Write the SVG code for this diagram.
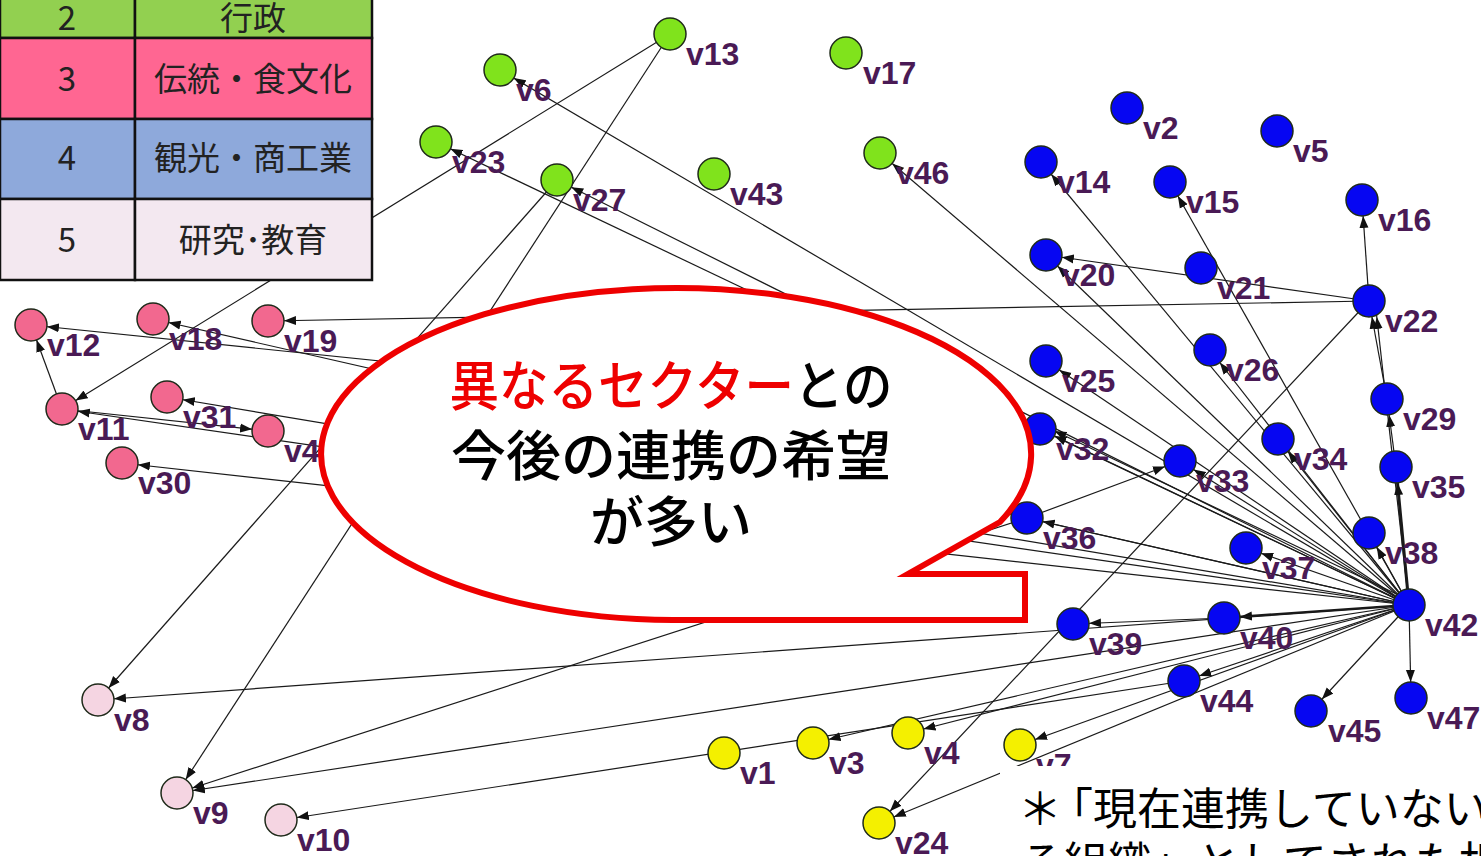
<svg xmlns="http://www.w3.org/2000/svg" width="1481" height="856" viewBox="0 0 1481 856">
<style>
.n{stroke:#1f2a1a;stroke-width:1.5}
.g{fill:#80E31C}
.b{fill:#0606F2}
.p{fill:#F2688F}
.l{fill:#F5D5E2}
.y{fill:#F4F000}
.lbl{font-family:"Liberation Sans",Arial,sans-serif;font-weight:bold;font-size:32px;fill:#4a1a55}
.e{stroke:#1a1a1a;stroke-width:1.2;fill:none;marker-end:url(#a)}
.tb{stroke:#111;stroke-width:2.5}
.tt{font-family:"Noto Sans CJK JP","Noto Sans",sans-serif;font-size:33px;fill:#222;text-anchor:middle}
.ct{font-family:"Noto Sans CJK JP",sans-serif;font-size:54px;fill:#000;text-anchor:middle;font-weight:500}
.nt{font-family:"Noto Sans CJK JP",sans-serif;font-size:44px;fill:#000}
</style>
<defs>
<marker id="a" markerUnits="userSpaceOnUse" viewBox="0 -5 28 10" refX="28" refY="0" markerWidth="28" markerHeight="10" orient="auto">
<path d="M0,-4.5 L12,0 L0,4.5 z" fill="#111"/>
</marker>
</defs>
<rect width="1481" height="856" fill="#fff"/>
<g id="connectors">
<line class="e" x1="670" y1="34" x2="62" y2="409"/>
<line class="e" x1="670" y1="34" x2="177" y2="793"/>
<line class="e" x1="557" y1="180" x2="98" y2="700"/>
<line class="e" x1="1409" y1="605" x2="500" y2="70"/>
<line class="e" x1="1409" y1="605" x2="436" y2="142"/>
<line class="e" x1="1409" y1="605" x2="557" y2="180"/>
<line class="e" x1="1409" y1="605" x2="880" y2="153"/>
<line class="e" x1="1409" y1="605" x2="1041" y2="162"/>
<line class="e" x1="1409" y1="605" x2="1170" y2="182"/>
<line class="e" x1="1369" y1="301" x2="1362" y2="200"/>
<line class="e" x1="1369" y1="301" x2="1046" y2="255"/>
<line class="e" x1="1409" y1="605" x2="1046" y2="255"/>
<line class="e" x1="1369" y1="301" x2="268" y2="321"/>
<line class="e" x1="1387" y1="399" x2="1369" y2="301"/>
<line class="e" x1="1409" y1="605" x2="1375" y2="301"/>
<line class="e" x1="1396" y1="467" x2="1387" y2="399"/>
<line class="e" x1="1409" y1="605" x2="1396" y2="467" style="stroke-width:3"/>
<line class="e" x1="1409" y1="605" x2="1046" y2="361"/>
<line class="e" x1="1409" y1="605" x2="1210" y2="350"/>
<line class="e" x1="1409" y1="605" x2="1040" y2="429"/>
<line class="e" x1="1409" y1="600" x2="1040" y2="424"/>
<line class="e" x1="1027" y1="518" x2="1180" y2="461"/>
<line class="e" x1="1409" y1="605" x2="1180" y2="461"/>
<line class="e" x1="1409" y1="605" x2="1278" y2="439"/>
<line class="e" x1="1409" y1="605" x2="1369" y2="533"/>
<line class="e" x1="1409" y1="605" x2="1027" y2="518"/>
<line class="e" x1="1409" y1="605" x2="1246" y2="548"/>
<line class="e" x1="1409" y1="605" x2="1224" y2="618" style="stroke-width:2.5"/>
<line class="e" x1="1224" y1="618" x2="1073" y2="624"/>
<line class="e" x1="1409" y1="605" x2="1184" y2="681"/>
<line class="e" x1="1409" y1="605" x2="1311" y2="711"/>
<line class="e" x1="1409" y1="605" x2="1411" y2="698"/>
<line class="e" x1="1409" y1="605" x2="1020" y2="745"/>
<line class="e" x1="1409" y1="605" x2="908" y2="733"/>
<line class="e" x1="1409" y1="605" x2="813" y2="743"/>
<line class="e" x1="1369" y1="301" x2="879" y2="823"/>
<line class="e" x1="1409" y1="605" x2="879" y2="823"/>
<line class="e" x1="1409" y1="605" x2="98" y2="700"/>
<line class="e" x1="1027" y1="518" x2="177" y2="793"/>
<line class="e" x1="1409" y1="605" x2="177" y2="793"/>
<line class="e" x1="1184" y1="681" x2="281" y2="820"/>
<line class="e" x1="62" y1="409" x2="31" y2="325"/>
<line class="e" x1="1040" y1="429" x2="31" y2="325"/>
<line class="e" x1="1409" y1="605" x2="153" y2="319"/>
<line class="e" x1="62" y1="409" x2="268" y2="431"/>
<line class="e" x1="1409" y1="605" x2="62" y2="409"/>
<line class="e" x1="1409" y1="605" x2="167" y2="397"/>
<line class="e" x1="1409" y1="605" x2="122" y2="463"/>
</g>
<g id="legend">
<rect x="0" y="-40" width="135" height="78" fill="#92D050" class="tb"/>
<rect x="135" y="-40" width="237" height="78" fill="#92D050" class="tb"/>
<rect x="0" y="38" width="135" height="81" fill="#FF6692" class="tb"/>
<rect x="135" y="38" width="237" height="81" fill="#FF6692" class="tb"/>
<rect x="0" y="119" width="135" height="80" fill="#8EA9DB" class="tb"/>
<rect x="135" y="119" width="237" height="80" fill="#8EA9DB" class="tb"/>
<rect x="0" y="199" width="135" height="81" fill="#F3E8F0" class="tb"/>
<rect x="135" y="199" width="237" height="81" fill="#F3E8F0" class="tb"/>
<text class="tt" x="67" y="30">2</text>
<text class="tt" x="253" y="30">行政</text>
<text class="tt" x="67" y="91">3</text>
<text class="tt" x="253" y="91">伝統・食文化</text>
<text class="tt" x="67" y="170">4</text>
<text class="tt" x="253" y="170">観光・商工業</text>
<text class="tt" x="67" y="252">5</text>
<text class="tt" x="253" y="252">研究･教育</text>
</g>
<g id="v1"><circle class="n y" cx="724" cy="753" r="16"/><text class="lbl" x="740" y="784">v1</text></g>
<g id="v2"><circle class="n b" cx="1127" cy="108" r="16"/><text class="lbl" x="1143" y="139">v2</text></g>
<g id="v3"><circle class="n y" cx="813" cy="743" r="16"/><text class="lbl" x="829" y="774">v3</text></g>
<g id="v4"><circle class="n y" cx="908" cy="733" r="16"/><text class="lbl" x="924" y="764">v4</text></g>
<g id="v5"><circle class="n b" cx="1277" cy="131" r="16"/><text class="lbl" x="1293" y="162">v5</text></g>
<g id="v6"><circle class="n g" cx="500" cy="70" r="16"/><text class="lbl" x="516" y="101">v6</text></g>
<g id="v7"><circle class="n y" cx="1020" cy="745" r="16"/><text class="lbl" x="1036" y="776">v7</text></g>
<g id="v8"><circle class="n l" cx="98" cy="700" r="16"/><text class="lbl" x="114" y="731">v8</text></g>
<g id="v9"><circle class="n l" cx="177" cy="793" r="16"/><text class="lbl" x="193" y="824">v9</text></g>
<g id="v10"><circle class="n l" cx="281" cy="820" r="16"/><text class="lbl" x="297" y="851">v10</text></g>
<g id="v11"><circle class="n p" cx="62" cy="409" r="16"/><text class="lbl" x="78" y="440">v11</text></g>
<g id="v12"><circle class="n p" cx="31" cy="325" r="16"/><text class="lbl" x="47" y="356">v12</text></g>
<g id="v13"><circle class="n g" cx="670" cy="34" r="16"/><text class="lbl" x="686" y="65">v13</text></g>
<g id="v14"><circle class="n b" cx="1041" cy="162" r="16"/><text class="lbl" x="1057" y="193">v14</text></g>
<g id="v15"><circle class="n b" cx="1170" cy="182" r="16"/><text class="lbl" x="1186" y="213">v15</text></g>
<g id="v16"><circle class="n b" cx="1362" cy="200" r="16"/><text class="lbl" x="1378" y="231">v16</text></g>
<g id="v17"><circle class="n g" cx="846" cy="53" r="16"/><text class="lbl" x="863" y="84">v17</text></g>
<g id="v18"><circle class="n p" cx="153" cy="319" r="16"/><text class="lbl" x="169" y="350">v18</text></g>
<g id="v19"><circle class="n p" cx="268" cy="321" r="16"/><text class="lbl" x="284" y="352">v19</text></g>
<g id="v20"><circle class="n b" cx="1046" cy="255" r="16"/><text class="lbl" x="1062" y="286">v20</text></g>
<g id="v21"><circle class="n b" cx="1201" cy="268" r="16"/><text class="lbl" x="1217" y="299">v21</text></g>
<g id="v22"><circle class="n b" cx="1369" cy="301" r="16"/><text class="lbl" x="1385" y="332">v22</text></g>
<g id="v23"><circle class="n g" cx="436" cy="142" r="16"/><text class="lbl" x="452" y="173">v23</text></g>
<g id="v24"><circle class="n y" cx="879" cy="823" r="16"/><text class="lbl" x="895" y="854">v24</text></g>
<g id="v25"><circle class="n b" cx="1046" cy="361" r="16"/><text class="lbl" x="1062" y="392">v25</text></g>
<g id="v26"><circle class="n b" cx="1210" cy="350" r="16"/><text class="lbl" x="1226" y="381">v26</text></g>
<g id="v27"><circle class="n g" cx="557" cy="180" r="16"/><text class="lbl" x="573" y="211">v27</text></g>
<g id="v29"><circle class="n b" cx="1387" cy="399" r="16"/><text class="lbl" x="1403" y="430">v29</text></g>
<g id="v30"><circle class="n p" cx="122" cy="463" r="16"/><text class="lbl" x="138" y="494">v30</text></g>
<g id="v31"><circle class="n p" cx="167" cy="397" r="16"/><text class="lbl" x="183" y="428">v31</text></g>
<g id="v32"><circle class="n b" cx="1040" cy="429" r="16"/><text class="lbl" x="1056" y="460">v32</text></g>
<g id="v33"><circle class="n b" cx="1180" cy="461" r="16"/><text class="lbl" x="1196" y="492">v33</text></g>
<g id="v34"><circle class="n b" cx="1278" cy="439" r="16"/><text class="lbl" x="1294" y="470">v34</text></g>
<g id="v35"><circle class="n b" cx="1396" cy="467" r="16"/><text class="lbl" x="1412" y="498">v35</text></g>
<g id="v36"><circle class="n b" cx="1027" cy="518" r="16"/><text class="lbl" x="1043" y="549">v36</text></g>
<g id="v37"><circle class="n b" cx="1246" cy="548" r="16"/><text class="lbl" x="1262" y="579">v37</text></g>
<g id="v38"><circle class="n b" cx="1369" cy="533" r="16"/><text class="lbl" x="1385" y="564">v38</text></g>
<g id="v39"><circle class="n b" cx="1073" cy="624" r="16"/><text class="lbl" x="1089" y="655">v39</text></g>
<g id="v40"><circle class="n b" cx="1224" cy="618" r="16"/><text class="lbl" x="1240" y="649">v40</text></g>
<g id="v41"><circle class="n p" cx="268" cy="431" r="16"/><text class="lbl" x="284" y="462">v4</text></g>
<g id="v42"><circle class="n b" cx="1409" cy="605" r="16"/><text class="lbl" x="1425" y="636">v42</text></g>
<g id="v43"><circle class="n g" cx="714" cy="174" r="16"/><text class="lbl" x="730" y="205">v43</text></g>
<g id="v44"><circle class="n b" cx="1184" cy="681" r="16"/><text class="lbl" x="1200" y="712">v44</text></g>
<g id="v45"><circle class="n b" cx="1311" cy="711" r="16"/><text class="lbl" x="1328" y="742">v45</text></g>
<g id="v46"><circle class="n g" cx="880" cy="153" r="16"/><text class="lbl" x="896" y="184">v46</text></g>
<g id="v47"><circle class="n b" cx="1411" cy="698" r="16"/><text class="lbl" x="1427" y="729">v47</text></g>
<g id="callout">
<path d="M1000,522 L908,574 L1025,574 L1025,620 L673,620 A355,166 0 1 1 1000,522 Z" fill="#fff" stroke="#EE0000" stroke-width="6" stroke-linejoin="miter"/>
<text class="ct" x="671" y="406" textLength="443" lengthAdjust="spacingAndGlyphs"><tspan fill="#EE0000">異なるセクター</tspan>との</text>
<text class="ct" x="671" y="476" textLength="440" lengthAdjust="spacingAndGlyphs">今後の連携の希望</text>
<text class="ct" x="671" y="542">が多い</text>
</g>
<g id="note">
<rect x="1000" y="766" width="481" height="90" fill="#fff"/>
<text class="nt" x="1018" y="825">＊<tspan dx="-13">「</tspan>現在連携していない</text>
<text class="nt" x="1020" y="879">る組織」としてされた相手</text>
</g>
</svg>
